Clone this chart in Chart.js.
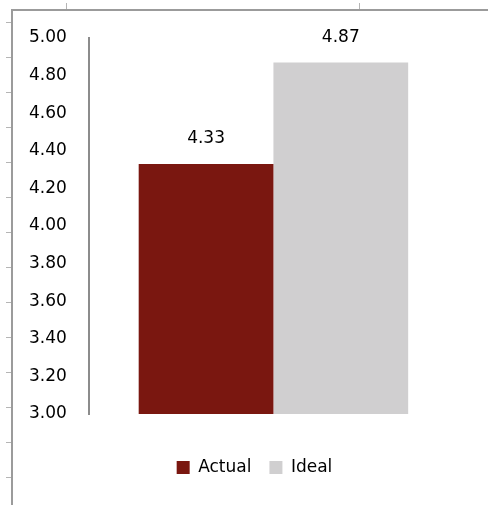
<!DOCTYPE html>
<html>
<head>
<meta charset="utf-8">
<script src="https://cdn.jsdelivr.net/npm/chart.js@4"></script>
<style>
  html, body { margin: 0; padding: 0; background: #fff; }
  #wrap { position: relative; width: 488px; height: 505px; }
</style>
</head>
<body>
<div id="wrap"><canvas id="scoreChart" width="488" height="505"></canvas></div>
<script>
const categories = [''];
const seriesNames = ['Actual', 'Ideal'];
const actualValues = [4.33];
const idealValues = [4.87];
const seriesColors = ['#7a1710', '#d0cfd0'];
const yMin = 3.0;
const yMax = 5.0;
const yStep = 0.2;

const FONT = 'DejaVu Sans, sans-serif';

// the spreadsheet frame around the picture
const framePlugin = {
    id: 'frame',
    beforeDraw(chart) {
        const c = chart.ctx;
        c.save();
        c.strokeStyle = '#9b9b9b';
        c.lineWidth = 2;
        c.beginPath();
        c.moveTo(12, 505);
        c.lineTo(12, 10);
        c.lineTo(488, 10);
        c.stroke();
        c.lineWidth = 1;
        c.strokeStyle = '#b5b5b5';
        c.beginPath();
        for (let y = 22.5; y < 505; y += 35) {
            c.moveTo(6, y);
            c.lineTo(11, y);
        }
        [66.5, 359.5].forEach(x => {
            c.moveTo(x, 3);
            c.lineTo(x, 9);
        });
        c.stroke();
        c.restore();
    }
};

// legend sits a bit right of the chart centre in the original
const legendShift = {
    id: 'legendShift',
    afterLayout(chart) {
        const l = chart.legend;
        if (!l) return;
        l.left += 22;
        l.right += 22;
    }
};

// value labels above the bars
const valueLabels = {
    id: 'valueLabels',
    afterDatasetsDraw(chart) {
        const c = chart.ctx;
        c.save();
        c.font = '17px ' + FONT;
        c.fillStyle = '#000';
        c.textAlign = 'center';
        c.textBaseline = 'middle';
        chart.data.datasets.forEach((ds, i) => {
            chart.getDatasetMeta(i).data.forEach((bar, j) => {
                c.fillText(ds.data[j].toFixed(2), bar.x, bar.y - 25);
            });
        });
        c.restore();
    }
};

new Chart(document.getElementById('scoreChart'), {
    type: 'bar',
    data: {
        labels: categories,
        datasets: [
            {
                label: seriesNames[0],
                data: actualValues,
                backgroundColor: seriesColors[0],
                categoryPercentage: 0.73,
                barPercentage: 1.0
            },
            {
                label: seriesNames[1],
                data: idealValues,
                backgroundColor: seriesColors[1],
                categoryPercentage: 0.73,
                barPercentage: 1.0
            }
        ]
    },
    options: {
        responsive: false,
        animation: false,
        layout: {
            padding: { left: 7, right: 30, top: 38, bottom: 19 }
        },
        plugins: {
            tooltip: { enabled: false },
            legend: {
                position: 'bottom',
                labels: {
                    boxWidth: 13,
                    boxHeight: 13,
                    padding: 18,
                    color: '#000',
                    font: { size: 17, family: FONT }
                }
            }
        },
        scales: {
            x: {
                grid: { display: false, drawTicks: false },
                border: { display: false },
                ticks: { display: false },
                afterFit: scale => { scale.height = 27; }
            },
            y: {
                min: yMin,
                max: yMax,
                grid: { display: false, drawTicks: false },
                border: { display: true, color: '#8c8c8c', width: 2 },
                ticks: {
                    stepSize: yStep,
                    padding: 22,
                    color: '#000',
                    font: { size: 17, family: FONT },
                    callback: v => v.toFixed(2)
                }
            }
        }
    },
    plugins: [framePlugin, legendShift, valueLabels]
});
</script>
</body>
</html>
